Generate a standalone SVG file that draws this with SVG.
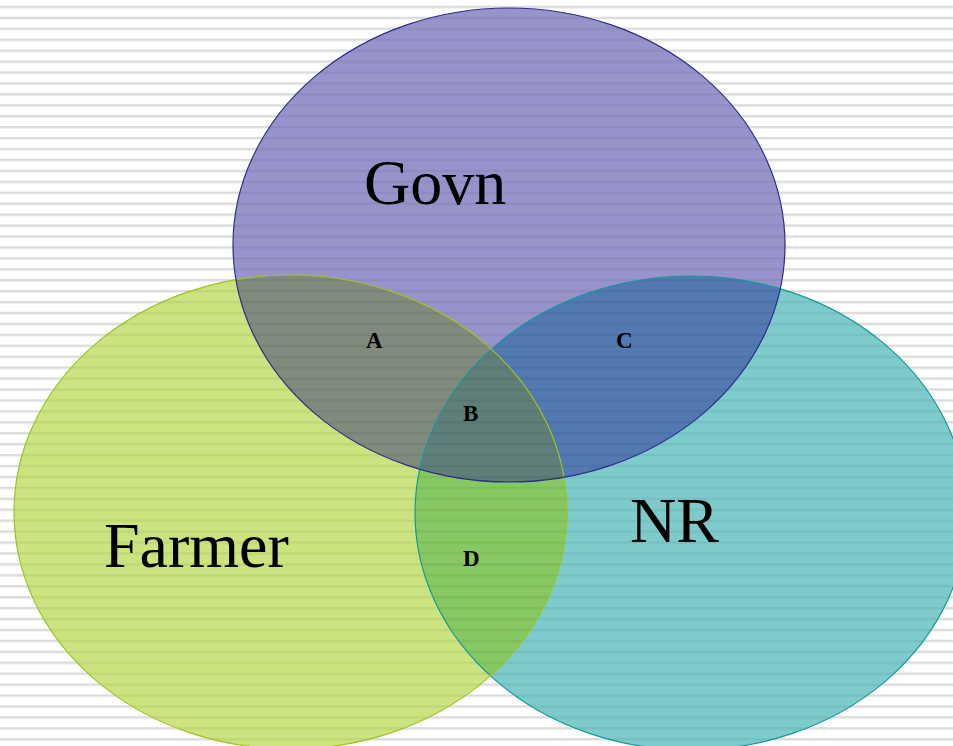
<svg xmlns="http://www.w3.org/2000/svg" width="953" height="746" viewBox="0 0 953 746">
  <style>
    .big { font-family: "Liberation Serif", "Times New Roman", serif; font-size: 64px; fill: #000; }
    .lbl { font-family: "Liberation Serif", "Times New Roman", serif; font-size: 23px; font-weight: bold; fill: #000; }
  </style>
  <defs>
    <pattern id="bgStripes" patternUnits="userSpaceOnUse" x="0" y="5.8" width="953" height="10.93">
      <rect x="0" y="0" width="953" height="2.2" fill="#dcdcdc"/>
      <rect x="0" y="2.2" width="953" height="0.8" fill="#ececec"/>
    </pattern>
    <pattern id="fgStripes" patternUnits="userSpaceOnUse" x="0" y="5.8" width="953" height="10.93">
      <rect x="0" y="0" width="953" height="2.4" fill="#000" fill-opacity="0.06"/>
    </pattern>
    <ellipse id="eG" cx="509" cy="245" rx="276" ry="237"/>
    <ellipse id="eF" cx="290.5" cy="512" rx="276.5" ry="237"/>
    <ellipse id="eN" cx="691" cy="513" rx="276" ry="237"/>
    <clipPath id="cG"><use href="#eG"/></clipPath>
    <clipPath id="cF"><use href="#eF"/></clipPath>
    <clipPath id="cN"><use href="#eN"/></clipPath>
    <clipPath id="cAll">
      <use href="#eG"/>
      <use href="#eF"/>
      <use href="#eN"/>
    </clipPath>
  </defs>

  <rect x="0" y="0" width="953" height="746" fill="#ffffff"/>
  <rect x="0" y="0" width="953" height="746" fill="url(#bgStripes)"/>

  <g id="node-nr">
    <use href="#eN" fill="#7ecbcc"/>
  </g>
  <g id="node-farmer">
    <use href="#eF" fill="#cce480"/>
  </g>
  <g id="node-govn">
    <use href="#eG" fill="#9894cb"/>
  </g>

  <g id="overlaps">
    <use href="#eF" fill="#86c862" clip-path="url(#cN)"/>
    <use href="#eG" fill="#7f8b7d" clip-path="url(#cF)"/>
    <use href="#eG" fill="#5279b1" clip-path="url(#cN)"/>
    <g clip-path="url(#cF)">
      <use href="#eG" fill="#5f7f78" clip-path="url(#cN)"/>
    </g>
  </g>

  <rect x="0" y="0" width="953" height="746" fill="url(#fgStripes)" clip-path="url(#cAll)"/>

  <g id="outlines" fill="none" stroke-width="1.2">
    <use href="#eN" stroke="#129a9c"/>
    <use href="#eF" stroke="#9cc422"/>
    <use href="#eG" stroke="#2c2e88"/>
  </g>

  <g id="labels">
    <text class="big" x="364" y="204">Govn</text>
    <text class="big" x="104" y="567">Farmer</text>
    <text class="big" x="630" y="542">NR</text>
    <text class="lbl" x="366" y="348">A</text>
    <text class="lbl" x="463" y="421">B</text>
    <text class="lbl" x="616" y="348">C</text>
    <text class="lbl" x="463" y="566">D</text>
  </g>
</svg>
